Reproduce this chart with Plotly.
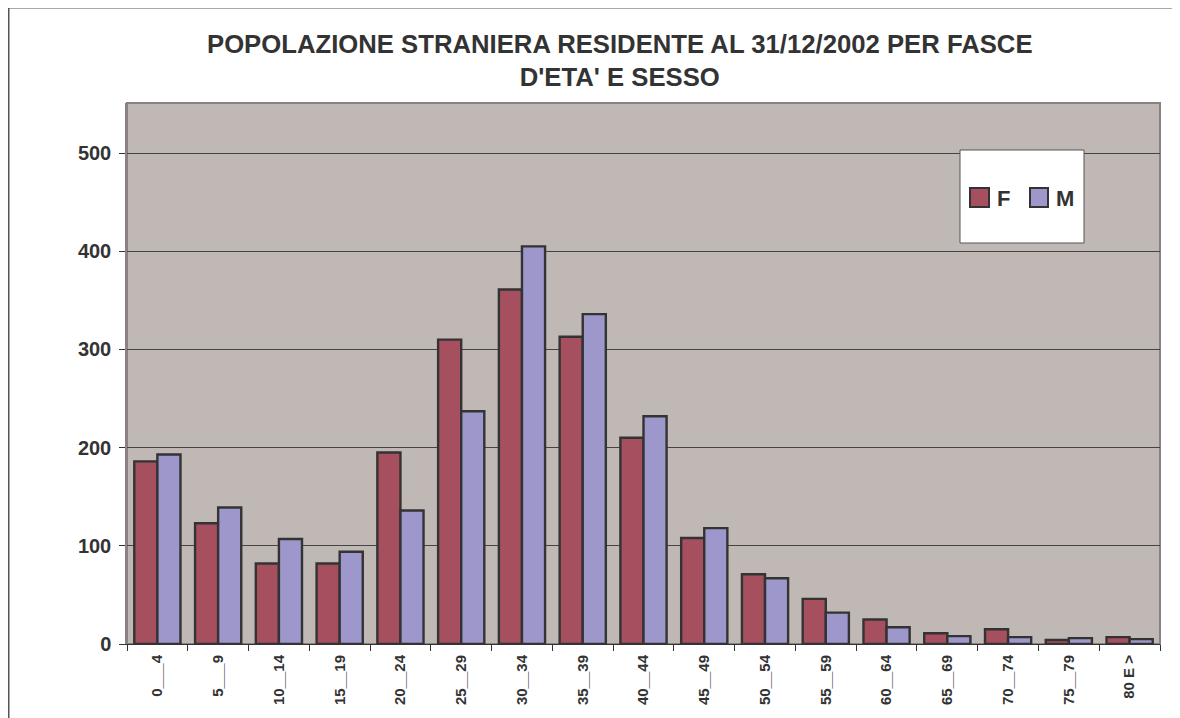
import plotly.graph_objects as go

categories = ["0___4", "5___9", "10__14", "15__19", "20__24", "25__29", "30__34", "35__39",
              "40__44", "45__49", "50__54", "55__59", "60__64", "65__69", "70__74", "75__79", "80 E >"]
females = [186, 123, 82, 82, 195, 310, 361, 313, 210, 108, 71, 46, 25, 11, 15, 4, 7]
males = [193, 139, 107, 94, 136, 237, 405, 336, 232, 118, 67, 32, 17, 8, 7, 6, 5]
y_ticks = [0, 100, 200, 300, 400, 500]
series_names = ["F", "M"]
series_colors = ["#A64F5E", "#9D97CB"]

OFF = 8  # page body margin
W, H = 1172, 710
L, R, T, B = 127 - OFF, 1160 - OFF, 103 - OFF, 644 - OFF


def px(x):  # screen x -> paper
    return (x - OFF - L) / (R - L)


def py(y):  # screen y -> paper
    return (B - (y - OFF)) / (B - T)


FONT = "Liberation Sans, Arial, sans-serif"
TXT = "#333333"

fig = go.Figure()
for name, vals, col in zip(series_names, [females, males], series_colors):
    fig.add_trace(go.Bar(name=name, x=categories, y=vals, showlegend=False,
                         marker=dict(color=col, line=dict(color="#333333", width=2.4))))

shapes = [
    # legend box
    dict(type="rect", xref="paper", yref="paper", x0=px(960), x1=px(1084), y0=py(243), y1=py(150),
         fillcolor="white", line=dict(color="#555555", width=1), layer="above"),
    # outer chart border (top & left)
    dict(type="path", xref="paper", yref="paper",
         path=f"M {px(8.5)} {py(740)} L {px(8.5)} {py(7.5)} L {px(1200)} {py(7.5)}",
         line=dict(color="#555555", width=2)),
]
annotations = [
    dict(text="POPOLAZIONE STRANIERA RESIDENTE AL 31/12/2002 PER FASCE<br>D'ETA' E SESSO",
         xref="paper", yref="paper", x=px(620), y=py(60), xanchor="center", yanchor="middle",
         showarrow=False, align="center",
         font=dict(size=25.7, family=FONT, color=TXT, weight="bold")),
]
# manual legend
leg_items = [(970, 989, 995), (1030, 1048, 1054)]
for (x0, x1, tx), name, col in zip(leg_items, series_names, series_colors):
    shapes.append(dict(type="rect", xref="paper", yref="paper", x0=px(x0), x1=px(x1),
                       y0=py(207), y1=py(188), fillcolor=col,
                       line=dict(color="#333333", width=2), layer="above"))
    annotations.append(dict(text=name, xref="paper", yref="paper", x=px(tx), y=py(198),
                            xanchor="left", yanchor="middle", showarrow=False,
                            font=dict(size=22, family=FONT, color=TXT, weight="bold")))

fig.update_layout(
    width=W, height=H,
    margin=dict(l=L, r=W - R, t=T, b=H - B, autoexpand=False),
    paper_bgcolor="white",
    plot_bgcolor="#C0B8B5",
    barmode="group",
    bargap=0.24,
    bargroupgap=0.0,
    font=dict(family=FONT, color=TXT),
    shapes=shapes,
    annotations=annotations,
)

fig.update_xaxes(
    type="category", tickangle=-90,
    tickfont=dict(size=15, family=FONT, color=TXT, weight="bold"),
    ticks="outside", tickson="boundaries", ticklen=6, tickcolor="#333333",
    ticklabelstandoff=4,
    showline=True, linecolor="#333333", linewidth=1, mirror=False,
    showgrid=False,
)
fig.update_yaxes(
    range=[0, 551], tickvals=y_ticks,
    tickfont=dict(size=20, family=FONT, color=TXT, weight="bold"),
    ticks="outside", ticklen=6, tickcolor="#333333",
    ticklabelstandoff=4,
    showgrid=True, gridcolor="#444444", gridwidth=1,
    zeroline=False,
    showline=True, linecolor="#8A8282", linewidth=1.5,
)
fig.add_shape(type="rect", xref="paper", yref="paper", x0=0, x1=1, y0=0, y1=1,
              line=dict(color="#8A8282", width=2), layer="below")

fig.write_html("out.html")
